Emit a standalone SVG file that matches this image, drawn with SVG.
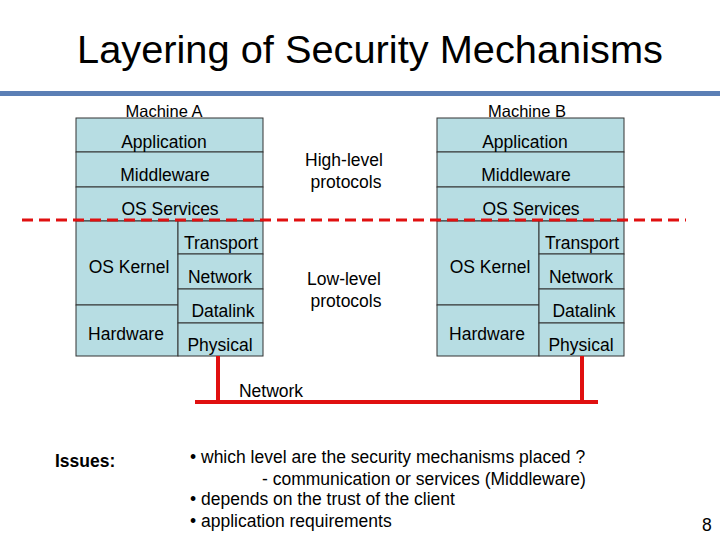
<svg xmlns="http://www.w3.org/2000/svg" width="720" height="540" viewBox="0 0 720 540">
<style>
.b{fill:#b7dde3;stroke:#333;stroke-width:1}
text{font-family:"Liberation Sans",Arial,sans-serif;fill:#000}
.l{font-size:17.5px;text-anchor:middle}
.s{font-size:16.5px;text-anchor:middle}
.i{font-size:17.5px}
.r{stroke:#e01010;stroke-width:4;fill:none}
</style>
<rect width="720" height="540" fill="#fff"/>
<text x="77" y="63" font-size="38" textLength="586" lengthAdjust="spacingAndGlyphs">Layering of Security Mechanisms</text>
<rect x="0" y="91" width="720" height="5" fill="#5b7fb5"/>
<g id="machineA">
<text class="s" x="164" y="117">Machine A</text>
<rect class="b" x="76" y="118" width="187" height="34"/>
<rect class="b" x="76" y="152" width="187" height="35"/>
<rect class="b" x="76" y="187" width="187" height="34"/>
<rect class="b" x="76" y="221" width="102" height="84"/>
<rect class="b" x="76" y="305" width="102" height="51"/>
<rect class="b" x="178" y="221" width="85" height="33"/>
<rect class="b" x="178" y="254" width="85" height="35"/>
<rect class="b" x="178" y="289" width="85" height="34"/>
<rect class="b" x="178" y="323" width="85" height="33"/>
<text class="l" x="164" y="148">Application</text>
<text class="l" x="165" y="181">Middleware</text>
<text class="l" x="170" y="215">OS Services</text>
<text class="l" x="129" y="273">OS Kernel</text>
<text class="l" x="126" y="340">Hardware</text>
<text class="l" x="221" y="249">Transport</text>
<text class="l" x="220" y="283">Network</text>
<text class="l" x="223" y="317">Datalink</text>
<text class="l" x="220" y="351">Physical</text>
</g>
<g id="machineB">
<text class="s" x="527" y="117">Machine B</text>
<rect class="b" x="437" y="118" width="187" height="34"/>
<rect class="b" x="437" y="152" width="187" height="35"/>
<rect class="b" x="437" y="187" width="187" height="34"/>
<rect class="b" x="437" y="221" width="102" height="84"/>
<rect class="b" x="437" y="305" width="102" height="51"/>
<rect class="b" x="539" y="221" width="85" height="33"/>
<rect class="b" x="539" y="254" width="85" height="35"/>
<rect class="b" x="539" y="289" width="85" height="34"/>
<rect class="b" x="539" y="323" width="85" height="33"/>
<text class="l" x="525" y="148">Application</text>
<text class="l" x="526" y="181">Middleware</text>
<text class="l" x="531" y="215">OS Services</text>
<text class="l" x="490" y="273">OS Kernel</text>
<text class="l" x="487" y="340">Hardware</text>
<text class="l" x="582" y="249">Transport</text>
<text class="l" x="581" y="283">Network</text>
<text class="l" x="584" y="317">Datalink</text>
<text class="l" x="581" y="351">Physical</text>
</g>
<g id="labels">
<text class="l" x="344" y="166">High-level</text>
<text class="l" x="346" y="188">protocols</text>
<text class="l" x="344" y="285">Low-level</text>
<text class="l" x="346" y="307">protocols</text>
<text class="l" x="271" y="397">Network</text>
</g>
<g id="connectors">
<line x1="22" y1="220" x2="686" y2="220" stroke="#e01010" stroke-width="3" stroke-dasharray="11,6"/>
<polyline class="r" points="218,356 218,402"/>
<polyline class="r" points="582,356 582,402"/>
<line class="r" x1="195" y1="402" x2="598" y2="402"/>
</g>
<g id="issues">
<text x="55" y="467" font-size="17.5" font-weight="bold">Issues:</text>
<text class="i" x="190" y="463">• which level are the security mechanisms placed ?</text>
<text class="i" x="262" y="485">- communication or services (Middleware)</text>
<text class="i" x="190" y="505">• depends on the trust of the client</text>
<text class="i" x="190" y="527">• application requirements</text>
<text x="702" y="531" font-size="17.5">8</text>
</g>
</svg>
